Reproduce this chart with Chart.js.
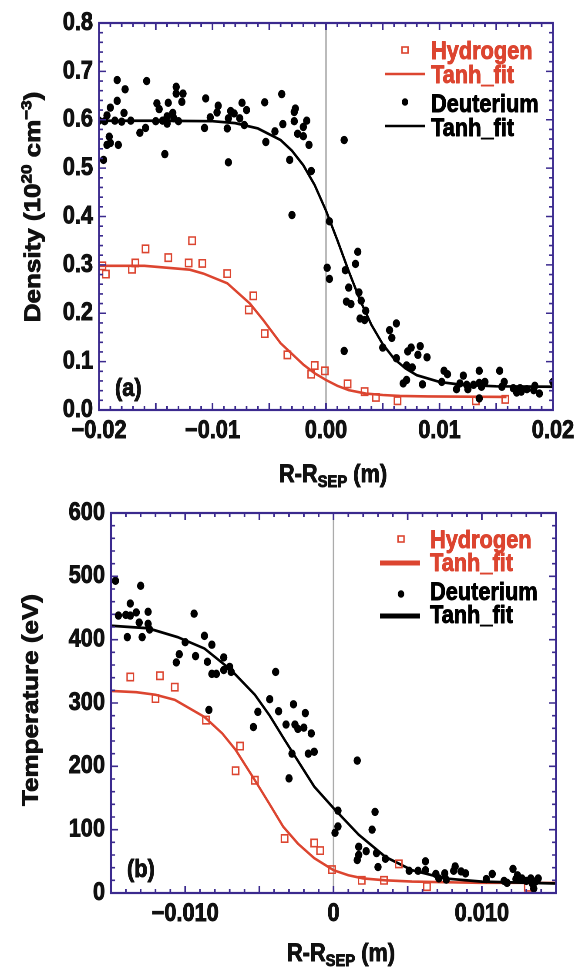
<!DOCTYPE html>
<html><head><meta charset="utf-8">
<script src="https://cdn.jsdelivr.net/npm/chart.js@4.4.1/dist/chart.umd.min.js"></script>
<style>
html,body{margin:0;padding:0;background:#fff;}
#wrap{position:relative;width:585px;height:970px;overflow:hidden;}
canvas{position:absolute;left:0;}
</style></head><body>
<div id="wrap">
<canvas id="c1" width="672" height="490" style="top:0px;width:585px;height:490px"></canvas>
<canvas id="c2" width="672" height="480" style="top:490px;width:585px;height:480px"></canvas>
</div>
<script>
// ---------------- DATA ----------------
// Panel (a): density (10^20 cm^-3) vs R-Rsep (m)
const hydTopX = [-0.0197,-0.0194,-0.0171,-0.0168,-0.0159,-0.0139,-0.0121,-0.0118,-0.0109,-0.0087,-0.0064,-0.0068,-0.0054,-0.0034,-0.0010,-0.0013,-0.0001,0.0019,0.0034,0.0044,0.0063,0.0132,0.0158];
const hydTopY = [0.298,0.281,0.291,0.304,0.333,0.315,0.304,0.350,0.303,0.282,0.236,0.207,0.158,0.114,0.092,0.074,0.081,0.054,0.038,0.026,0.019,0.019,0.022];

const deuTopX = [-0.0196,-0.0193,-0.0190,-0.0191,-0.0183,-0.0193,-0.0190,-0.0184,-0.0184,-0.0177,-0.0178,-0.0164,-0.0159,-0.0158,-0.0149,-0.0147,-0.0139,-0.0135,-0.0140,-0.0142,-0.0132,-0.0132,-0.0126,-0.0127,-0.0134,-0.0140,
  -0.0200,-0.0195,-0.0186,-0.0180,-0.0172,-0.0150,-0.0144,-0.0130,
  -0.0106,-0.0102,-0.0107,-0.0095,-0.0096,-0.0087,-0.0086,-0.0084,-0.0086,-0.0081,-0.0074,-0.0076,-0.0070,-0.0072,-0.0054,-0.0053,-0.0045,-0.0039,-0.0038,-0.0032,-0.0028,-0.0027,-0.0028,-0.0025,-0.0020,-0.0020,-0.0017,-0.0015,-0.0013,-0.0030,
  0.0016,0.0003,0.0001,0.0003,0.0017,0.0028,0.0026,0.0020,0.0029,0.0018,0.0022,0.0031,0.0035,0.0030,0.0034,0.0016,
  0.0062,0.0056,0.0058,0.0050,0.0062,0.0072,0.0075,0.0083,0.0081,0.0089,0.0071,0.0076,0.0071,0.0068,0.0085,
  0.0104,0.0107,0.0102,0.0121,0.0115,0.0118,0.0124,0.0125,0.0130,0.0135,0.0135,0.0137,0.0135,0.0140,0.0153,0.0155,0.0157,
  0.0165,0.0168,0.0171,0.0169,0.0177,0.0172,0.0184,0.0188,0.0183,0.0200];
const deuTopY = [0.517,0.548,0.552,0.565,0.548,0.609,0.625,0.639,0.682,0.663,0.614,0.573,0.583,0.680,0.634,0.622,0.635,0.614,0.607,0.529,0.668,0.654,0.654,0.637,0.603,0.592,
  0.598,0.597,0.598,0.596,0.598,0.597,0.598,0.597,
  0.644,0.605,0.583,0.629,0.615,0.582,0.512,0.618,0.603,0.613,0.635,0.603,0.620,0.589,0.636,0.554,0.576,0.653,0.591,0.517,0.616,0.623,0.597,0.571,0.566,0.585,0.598,0.548,0.494,0.403,
  0.558,0.390,0.294,0.271,0.289,0.327,0.302,0.253,0.243,0.224,0.219,0.226,0.205,0.189,0.186,0.122,
  0.179,0.165,0.149,0.129,0.107,0.121,0.129,0.132,0.114,0.109,0.092,0.088,0.062,0.055,0.053,
  0.081,0.074,0.058,0.071,0.043,0.055,0.052,0.043,0.052,0.081,0.056,0.048,0.024,0.058,0.081,0.048,0.058,
  0.045,0.036,0.045,0.040,0.043,0.038,0.050,0.034,0.041,0.058];

const hydFitTopX = [-0.0200,-0.016,-0.012,-0.0108,-0.0087,-0.0067,-0.0055,-0.004,-0.003,-0.002,-0.001,0,0.001,0.002,0.0035,0.005,0.0065,0.009,0.0159];
const hydFitTopY = [0.298,0.298,0.290,0.282,0.262,0.220,0.185,0.138,0.116,0.094,0.076,0.062,0.050,0.041,0.034,0.031,0.029,0.028,0.027];

const deuFitTopX = [-0.0200,-0.015,-0.010,-0.008,-0.006,-0.004,-0.003,-0.002,-0.001,0,0.001,0.002,0.003,0.004,0.005,0.006,0.007,0.008,0.010,0.012,0.015,0.020];
const deuFitTopY = [0.598,0.598,0.597,0.593,0.582,0.558,0.536,0.506,0.465,0.412,0.351,0.287,0.227,0.176,0.136,0.106,0.086,0.072,0.058,0.052,0.049,0.048];

// Panel (b): temperature (eV) vs R-Rsep (m)
const hydBotX = [-0.0137,-0.0117,-0.0107,-0.0120,-0.0086,-0.0063,-0.0066,-0.0053,-0.0033,-0.0013,-0.0009,-0.0001,0.0019,0.0034,0.0044,0.0063,0.0131];
const hydBotY = [341,343,325,307,273,232,193,178,86,79,67,37,20,20,46,10,9];

const deuBotX = [-0.0147,-0.0145,-0.0140,-0.0137,-0.0137,-0.0133,-0.0130,-0.0131,-0.0125,-0.0125,-0.0124,-0.0139,-0.0129,
  -0.0094,-0.0100,-0.0104,-0.0106,-0.0093,-0.0087,-0.0082,-0.0085,-0.0074,-0.0074,-0.0070,-0.0082,-0.0079,-0.0069,-0.0084,
  -0.0039,-0.0043,-0.0051,-0.0054,-0.0037,-0.0027,-0.0032,-0.0026,-0.0024,-0.0020,-0.0019,-0.0015,-0.0028,-0.0017,-0.0013,-0.0030,
  0.0003,0.0003,0.0001,0.0016,0.0028,0.0026,0.0017,0.0022,0.0017,0.0016,0.0029,0.0035,0.0030,
  0.0051,0.0057,0.0062,0.0062,0.0069,0.0071,0.0075,0.0076,0.0082,0.0081,0.0086,0.0089,
  0.0103,0.0107,0.0115,0.0117,0.0121,0.0123,0.0124,0.0127,0.0130,0.0133,0.0135,0.0136,0.0138,0.0134];
const deuBotY = [493,438,439,438,457,443,485,427,444,425,416,404,404,
  441,396,377,364,374,406,392,365,372,352,357,346,346,349,289,
  349,306,286,262,287,298,266,266,259,261,284,252,220,220,223,181,
  130,105,95,209,128,100,73,66,60,52,63,54,41,
  35,35,50,36,30,23,31,21,42,35,34,31,
  22,30,19,16,38,22,28,23,19,23,7,18,23,15];

const hydFitBotX = [-0.015,-0.0133,-0.012,-0.0107,-0.0087,-0.0075,-0.0066,-0.0053,-0.0043,-0.0034,-0.0024,-0.0013,0,0.001,0.002,0.0035,0.0053,0.0098,0.015];
const hydFitBotY = [319,317,313,305,278,252,226,178,140,105,78,55,36,28,23,20,18,16,16];

const deuFitBotX = [-0.015,-0.0125,-0.0105,-0.0087,-0.0069,-0.0053,-0.0043,-0.0033,-0.0023,-0.0013,0,0.0017,0.0035,0.0053,0.0075,0.010,0.015];
const deuFitBotY = [422,418,404,386,352,313,280,242,205,168,134,92,57,36,23,18,15];

// Tick labels
const topXMajor = [-0.02,-0.01,0,0.01,0.02];
const topXText  = ['\u22120.02','\u22120.01','0.00','0.01','0.02'];
const topYMajor = [0,0.1,0.2,0.3,0.4,0.5,0.6,0.7,0.8];
const topYText  = ['0.0','0.1','0.2','0.3','0.4','0.5','0.6','0.7','0.8'];
const botXMajor = [-0.01,0,0.01];
const botXText  = ['\u22120.010','0','0.010'];
const botYMajor = [0,100,200,300,400,500,600];
const botYText  = ['0','100','200','300','400','500','600'];

const legendNames = ['Hydrogen','Tanh_fit','Deuterium','Tanh_fit'];

// ---------------- STYLE / LAYOUT ----------------
// canvases are drawn 672 px wide and shown 585 px wide (horizontally condensed look)
const W = 672;
const K = 585 / W;
const L = v => v / K;          // page x -> canvas x
const FONT = "'Liberation Sans',Arial,sans-serif";
const FRAME = '#3b2a8e';
const RED = '#dc4530';
const BLACK = '#000000';
const TXT = '#111111';
const STROKE_W = 0.9;

function pts(xs, ys){ return xs.map((x,i)=>({x:x, y:ys[i]})); }
function steps(min, max, step){ const n = Math.round((max-min)/step); const a=[]; for(let i=0;i<=n;i++) a.push(+(min+i*step).toFixed(6)); return a; }
function labeler(majors, texts){ return function(v){ const i = majors.findIndex(m=>Math.abs(m-v)<1e-9); return i>=0 ? texts[i] : ''; }; }

function boldText(ctx, t, x, y){
  ctx.lineWidth = STROKE_W; ctx.lineJoin = 'round';
  ctx.strokeStyle = ctx.fillStyle;
  ctx.strokeText(t, x, y);
  ctx.fillText(t, x, y);
}

function drawRich(ctx, parts, x, y, align){
  let Wd = 0;
  parts.forEach(p=>{ ctx.font = p.f; p.w = ctx.measureText(p.t).width; Wd += p.w; });
  let cx = align === 'center' ? x - Wd/2 : x;
  ctx.textAlign = 'left'; ctx.textBaseline = 'alphabetic';
  parts.forEach(p=>{ ctx.font = p.f; boldText(ctx, p.t, cx, y + (p.dy||0)); cx += p.w; });
}

function makeDeco(cfg){
  return {
    id: 'deco',
    beforeDatasetsDraw(chart){
      const {ctx, chartArea:a, scales:{x}} = chart;
      const x0 = x.getPixelForValue(0);
      ctx.save();
      ctx.strokeStyle = '#ababab'; ctx.lineWidth = 1.7;
      ctx.beginPath(); ctx.moveTo(x0, a.top); ctx.lineTo(x0, a.bottom); ctx.stroke();
      ctx.restore();
    },
    afterDraw(chart){
      const {ctx, chartArea:a, scales:{x, y}} = chart;
      ctx.save();
      ctx.strokeStyle = FRAME;
      ctx.lineWidth = 1.9;
      ctx.beginPath();
      x.ticks.forEach(t=>{
        const px = x.getPixelForValue(t.value);
        const len = cfg.xMajor(t.value) ? 7 : 4;
        ctx.moveTo(px, a.bottom); ctx.lineTo(px, a.bottom - len);
        ctx.moveTo(px, a.top); ctx.lineTo(px, a.top + len);
      });
      ctx.stroke();
      ctx.lineWidth = 1.6;
      ctx.beginPath();
      y.ticks.forEach(t=>{
        const py = y.getPixelForValue(t.value);
        const len = L(cfg.yMajor(t.value) ? 7 : 4);
        ctx.moveTo(a.left, py); ctx.lineTo(a.left + len, py);
        ctx.moveTo(a.right, py); ctx.lineTo(a.right - len, py);
      });
      ctx.stroke();
      ctx.lineWidth = 2.2;
      ctx.strokeRect(a.left, a.top, a.right - a.left, a.bottom - a.top);

      // legend
      const G = cfg.legend;
      ctx.font = 'bold 25px ' + FONT;
      ctx.textAlign = 'left'; ctx.textBaseline = 'alphabetic';
      ctx.strokeStyle = RED; ctx.lineWidth = 1.6;
      ctx.strokeRect(L(G.mx) - L(3), G.rows[0].m - 3, L(6), 6);
      ctx.fillStyle = RED;
      boldText(ctx, legendNames[0], L(G.tx), G.rows[0].b);
      ctx.strokeStyle = RED; ctx.lineWidth = G.lw; ctx.beginPath(); ctx.moveTo(L(G.l0), G.rows[1].m); ctx.lineTo(L(G.l1), G.rows[1].m); ctx.stroke();
      boldText(ctx, legendNames[1], L(G.tx), G.rows[1].b);
      ctx.fillStyle = BLACK; ctx.beginPath(); ctx.arc(L(G.mx), G.rows[2].m, 3.8, 0, Math.PI*2); ctx.fill();
      boldText(ctx, legendNames[2], L(G.tx), G.rows[2].b);
      ctx.strokeStyle = BLACK; ctx.lineWidth = G.lw; ctx.beginPath(); ctx.moveTo(L(G.l0), G.rows[3].m); ctx.lineTo(L(G.l1), G.rows[3].m); ctx.stroke();
      boldText(ctx, legendNames[3], L(G.tx), G.rows[3].b);

      // panel tag
      ctx.fillStyle = TXT;
      ctx.font = 'bold 25px ' + FONT;
      boldText(ctx, cfg.tag.t, L(cfg.tag.x), cfg.tag.y);

      // x title
      ctx.fillStyle = TXT;
      drawRich(ctx, [
        {t:'R-R', f:'bold 25px ' + FONT},
        {t:'SEP', f:'bold 17px ' + FONT, dy:5},
        {t:' (m)', f:'bold 25px ' + FONT}
      ], L(cfg.xTitle.x), cfg.xTitle.y, 'center');

      // y title (rotated)
      ctx.save();
      ctx.translate(L(cfg.yTitle.x), cfg.yTitle.y);
      ctx.rotate(-Math.PI/2);
      ctx.fillStyle = TXT;
      drawRich(ctx, cfg.yTitle.parts, 0, 9, 'center');
      ctx.restore();
      ctx.restore();
    }
  };
}

function tickOpts(extra){
  return Object.assign({ autoSkip: false, color: TXT, font: {family: FONT, size: 25, weight: 'bold'},
    textStrokeColor: TXT, textStrokeWidth: STROKE_W }, extra);
}

function buildChart(id, o){
  return new Chart(document.getElementById(id), {
    type: 'scatter',
    data: { datasets: [
      { label: 'Tanh_fit (H)', data: pts(o.hfx, o.hfy), showLine: true, borderColor: RED, borderWidth: 2.6, pointRadius: 0, order: 3 },
      { label: 'Tanh_fit (D)', data: pts(o.dfx, o.dfy), showLine: true, borderColor: BLACK, borderWidth: 2.7, pointRadius: 0, order: 2 },
      { label: 'Hydrogen', data: pts(o.hx, o.hy), pointStyle: 'rect', pointRadius: 5.2, borderColor: RED, borderWidth: 1.6, backgroundColor: 'rgba(0,0,0,0)', order: 1 },
      { label: 'Deuterium', data: pts(o.dx, o.dy), pointStyle: 'circle', pointRadius: 4.2, borderWidth: 0, backgroundColor: BLACK, order: 0 }
    ]},
    options: {
      responsive: false, animation: false, devicePixelRatio: 2,
      layout: { padding: { left: 0, top: o.area.top, right: W - L(o.area.right), bottom: 0 } },
      plugins: { legend: { display: false }, tooltip: { enabled: false } },
      scales: {
        x: { type: 'linear', min: o.xmin, max: o.xmax,
             afterBuildTicks: s => { s.ticks = steps(o.xmin, o.xmax, 0.001).map(v=>({value:v})); },
             afterFit: s => { s.height = o.area.xh; },
             ticks: tickOpts({ maxRotation: 0, minRotation: 0, padding: 6, callback: labeler(o.xMajorVals, o.xText) }),
             grid: { display: false, drawTicks: false }, border: { display: false } },
        y: { type: 'linear', min: o.ymin, max: o.ymax,
             afterBuildTicks: s => { s.ticks = steps(o.ymin, o.ymax, o.ystep).map(v=>({value:v})); },
             afterFit: s => { s.width = L(o.area.left); },
             ticks: tickOpts({ padding: L(6), callback: labeler(o.yMajorVals, o.yText) }),
             grid: { display: false, drawTicks: false }, border: { display: false } }
      }
    },
    plugins: [makeDeco(o.deco)]
  });
}

buildChart('c1', {
  hx: hydTopX, hy: hydTopY, dx: deuTopX, dy: deuTopY,
  hfx: hydFitTopX, hfy: hydFitTopY, dfx: deuFitTopX, dfy: deuFitTopY,
  xmin: -0.02, xmax: 0.02, ymin: 0, ymax: 0.8, ystep: 0.02,
  xMajorVals: topXMajor, xText: topXText, yMajorVals: topYMajor, yText: topYText,
  area: { left: 99, top: 23, right: 553, xh: 80 },
  deco: {
    xMajor: v => Math.abs(Math.round(v*1000) % 5) === 0,
    yMajor: v => Math.abs(Math.round(v*100) % 10) === 0,
    legend: { mx: 405, tx: 431, l0: 385, l1: 425, lw: 2.6,
      rows: [{m:50, b:59}, {m:74, b:83}, {m:102, b:112}, {m:126, b:136}] },
    tag: { t: '(a)', x: 115, y: 396 },
    xTitle: { x: 333, y: 482 },
    yTitle: { x: 32, y: 207, parts: [
      {t:'Density (10', f:'bold 26px ' + FONT},
      {t:'20', f:'bold 17px ' + FONT, dy:-10},
      {t:' cm', f:'bold 26px ' + FONT},
      {t:'\u22123', f:'bold 17px ' + FONT, dy:-10},
      {t:')', f:'bold 26px ' + FONT}
    ]}
  }
});

buildChart('c2', {
  hx: hydBotX, hy: hydBotY, dx: deuBotX, dy: deuBotY,
  hfx: hydFitBotX, hfy: hydFitBotY, dfx: deuFitBotX, dfy: deuFitBotY,
  xmin: -0.015, xmax: 0.015, ymin: 0, ymax: 600, ystep: 20,
  xMajorVals: botXMajor, xText: botXText, yMajorVals: botYMajor, yText: botYText,
  area: { left: 111, top: 23, right: 556, xh: 77 },
  deco: {
    xMajor: v => Math.abs(Math.round(v*1000) % 5) === 0,
    yMajor: v => Math.abs(Math.round(v) % 100) === 0,
    legend: { mx: 401, tx: 430, l0: 380, l1: 420, lw: 5,
      rows: [{m:49, b:58}, {m:73, b:81}, {m:104, b:110}, {m:126, b:133}] },
    tag: { t: '(b)', x: 127, y: 387 },
    xTitle: { x: 341, y: 471 },
    yTitle: { x: 30, y: 210, parts: [
      {t:'Temperature (eV)', f:'bold 26px ' + FONT}
    ]}
  }
});
</script>
</body></html>
